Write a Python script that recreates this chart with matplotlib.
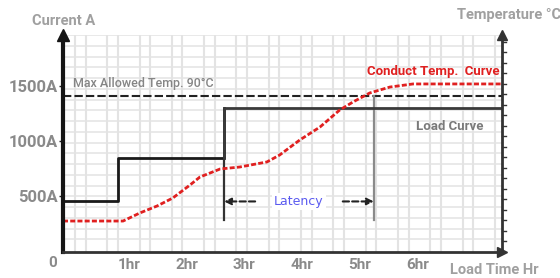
import matplotlib
matplotlib.use("Agg")
import matplotlib.pyplot as plt
import numpy as np

# ---------------- data ----------------
x_tick_hours = [1, 2, 3, 4, 5, 6]
x_tick_labels = ["1hr", "2hr", "3hr", "4hr", "5hr", "6hr"]
y_tick_values = [500, 1000, 1500]
y_tick_labels = ["500A", "1000A", "1500A"]

load_times = [0, 0.95, 2.79, 7.6]
load_levels = [460, 847, 1307, 1307]

temp_times = [0, 1.04, 1.33, 1.63, 1.90, 2.20, 2.37, 2.72, 3.06, 3.53, 3.75,
              4.10, 4.45, 4.79, 5.02, 5.31, 5.66, 6.06, 7.6]
temp_values = [277, 277, 350, 414, 486, 605, 677, 750, 768, 814, 877,
               1014, 1132, 1286, 1359, 1441, 1495, 1523, 1523]

max_allowed = 1415
latency_start = 2.79
latency_end = 5.38
latency_bottom = 286
latency_arrow_level = 455

X_MAX = 7.6
Y_MAX = 1968

# ---------------- figure ----------------
W, H = 560, 278
fig = plt.figure(figsize=(W / 100, H / 100), dpi=100)
L, R, B, T = 63, 502, 251.5, 35
ax = fig.add_axes([L / W, 1 - B / H, (R - L) / W, (B - T) / H])
ax.set_xlim(0, X_MAX)
ax.set_ylim(0, Y_MAX)

px_per_hr = (R - L) / X_MAX
px_per_A = (B - T) / Y_MAX

# background grid (two interleaved sets of light lines)
grid_c = "#e3e3e3"
for k in range(14):
    for x0 in (75, 85.5):
        xp = x0 + 32.3 * k
        if L < xp < R:
            ax.axvline((xp - L) / px_per_hr, color=grid_c, lw=1.5, zorder=0)
for k in range(11):
    for y0 in (35, 45.5):
        yp = y0 + 21.5 * k
        if T <= yp < B - 2:
            ax.axhline((B - yp) / px_per_A, color=grid_c, lw=1.1, zorder=0)

# max allowed temperature line
ax.axhline(max_allowed, color="#222222", lw=1.5, dashes=(4, 1.5), zorder=3)

# load curve
ax.step(load_times[:3], load_levels[:3], where="post", color="#1a1a1a", lw=2.0, zorder=4)
ax.plot([load_times[2], load_times[2], load_times[3]],
        [load_levels[1], load_levels[2], load_levels[3]], color="#3a3a3a", lw=2.0, zorder=4)

# latency markers
ax.plot([latency_start, latency_start], [latency_bottom, load_levels[1]], color="#333333", lw=1.6, zorder=3)
ax.plot([latency_end, latency_end], [latency_bottom, max_allowed], color="#8a8a8a", lw=1.6, zorder=3)

# conductor temperature curve
ax.plot(temp_times, temp_values, color="#e02020", lw=2.0, dashes=(1.8, 0.8), zorder=5)

# latency arrows + label
arrow_len = 31 / px_per_hr
ax.annotate("", xy=(latency_start, latency_arrow_level),
            xytext=(latency_start + arrow_len, latency_arrow_level),
            arrowprops=dict(arrowstyle="-|>", color="#222222", lw=1.5, linestyle=(0, (3, 1.5)),
                            mutation_scale=10, shrinkA=0, shrinkB=0), zorder=6)
ax.annotate("", xy=(latency_end, latency_arrow_level),
            xytext=(latency_end - arrow_len, latency_arrow_level),
            arrowprops=dict(arrowstyle="-|>", color="#222222", lw=1.5, linestyle=(0, (3, 1.5)),
                            mutation_scale=10, shrinkA=0, shrinkB=0), zorder=6)
ax.text((latency_start + latency_end) / 2, latency_arrow_level, "Latency",
        ha="center", va="center", color="#5a5af0", fontsize=9, family="DejaVu Sans",
        bbox=dict(facecolor="white", edgecolor="none", pad=1.5), zorder=6)

# annotations
ax.text((73 - L) / px_per_hr, (B - 84) / px_per_A, "Max Allowed Temp. 90°C",
        ha="left", va="center", color="#858585", fontsize=9, family="Roboto",
        fontweight="medium", zorder=6)
ax.text((500 - L) / px_per_hr, (B - 71) / px_per_A, "Conduct Temp.  Curve",
        ha="right", va="center", color="#e02020", fontsize=9.5, family="Roboto",
        fontweight="bold", zorder=6)
ax.text((450 - L) / px_per_hr, (B - 126) / px_per_A, "Load Curve",
        ha="center", va="center", color="#7a7a7a", fontsize=9.5, family="Roboto",
        fontweight="bold", zorder=6)

# spines
ax.spines["top"].set_visible(False)
ax.spines["left"].set_linewidth(3)
ax.spines["left"].set_color("#151515")
ax.spines["right"].set_linewidth(2)
ax.spines["right"].set_color("#333333")
ax.spines["bottom"].set_linewidth(2)
ax.spines["bottom"].set_color("#333333")
for sp in ax.spines.values():
    sp.set_zorder(7)

# axis arrows
ax.plot([0], [1], marker="^", ms=8, color="#151515", transform=ax.transAxes, clip_on=False, zorder=8)
ax.plot([1], [1], marker="^", ms=7, color="#333333", transform=ax.transAxes, clip_on=False, zorder=8)
ax.plot([1], [0], marker=">", ms=7, color="#333333", transform=ax.transAxes, clip_on=False, zorder=8)

# ticks
ax.set_xticks(x_tick_hours)
ax.set_xticklabels(x_tick_labels, family="Roboto", fontweight="bold", fontsize=11, color="#8a8a8a")
ax.tick_params(axis="x", length=0, pad=5)
offset = matplotlib.transforms.ScaledTranslation(8 / 100, 0, fig.dpi_scale_trans)
for lbl in ax.get_xticklabels():
    lbl.set_transform(lbl.get_transform() + offset)
ax.set_yticks(y_tick_values)
ax.set_yticklabels(y_tick_labels, family="Roboto", fontweight="bold", fontsize=12, color="#8a8a8a")
ax.tick_params(axis="y", length=3, width=1, pad=1, color="#222222")

# right-side minor ticks
for k in range(1, 21):
    yp = B - 10.5 * k
    if yp > T:
        ax.plot([1, 1.008], [(B - yp) / px_per_A / Y_MAX] * 2, color="#333333", lw=1,
                transform=ax.transAxes, clip_on=False, zorder=8)

# outer labels
fig.text(53 / W, 1 - 263 / H, "0", ha="center", va="center", family="Roboto",
         fontweight="bold", fontsize=11, color="#8a8a8a")
fig.text(64 / W, 1 - 21 / H, "Current A", ha="center", va="center", family="Roboto",
         fontweight="bold", fontsize=10.5, color="#a0a0a0")
fig.text(457 / W, 1 - 15 / H, "Temperature °C", ha="left", va="center", family="Roboto",
         fontweight="bold", fontsize=10.5, color="#a0a0a0")
fig.text(450 / W, 1 - 270.5 / H, "Load Time Hr", ha="left", va="center", family="Roboto",
         fontweight="bold", fontsize=10.5, color="#a0a0a0")

fig.savefig("out.png", dpi=100)
